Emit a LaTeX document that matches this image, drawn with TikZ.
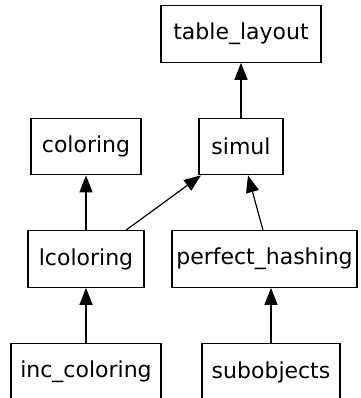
\documentclass[tikz,border=0pt]{standalone}
\usepackage{fontspec}
\setmainfont{DejaVu Sans}
\usetikzlibrary{arrows.meta}
\begin{document}
\begin{tikzpicture}[x=1bp,y=-1bp,
  box/.style={draw,line width=1.2bp,rectangle,inner sep=0pt,minimum height=56.5bp,
    font=\fontsize{22bp}{26bp}\selectfont},
  edge/.style={line width=1.2bp,-{Triangle[length=17bp,width=13bp]}}]
\useasboundingbox (0,0) rectangle (361,398);
\node[box,minimum width=160bp] (tl) at (241,34) {table\_layout};
\node[box,minimum width=110bp] (col) at (86,146.5) {coloring};
\node[box,minimum width=84bp] (sim) at (241,146.5) {simul};
\node[box,minimum width=116bp] (lc) at (86,259) {lcoloring};
\node[box,minimum width=185bp] (ph) at (264.5,259) {perfect\_hashing};
\node[box,minimum width=150bp] (inc) at (86,372) {inc\_coloring};
\node[box,minimum width=138bp] (sub) at (271,372) {subobjects};
\draw[edge] (sim) -- (tl);
\draw[edge] (lc) -- (col);
\draw[edge] ([xshift=40bp]lc.north) -- ([xshift=-40bp]sim.south);
\draw[edge] ([xshift=-1.5bp]ph.north) -- ([xshift=7bp]sim.south);
\draw[edge] (inc) -- (lc);
\draw[edge] (sub.north) -- (sub.north |- ph.south);
\end{tikzpicture}
\end{document}
